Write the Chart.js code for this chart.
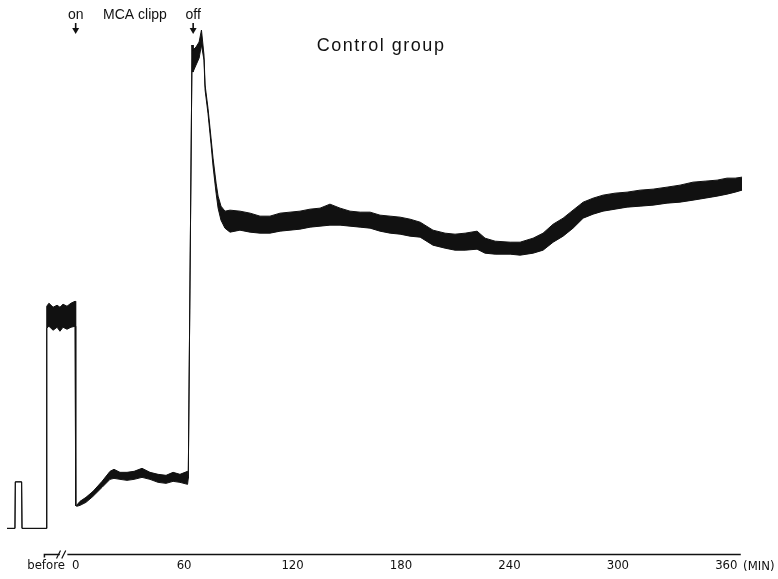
<!DOCTYPE html>
<html>
<head>
<meta charset="utf-8">
<title>Control group</title>
<script src="https://cdn.jsdelivr.net/npm/chart.js@4"></script>
<style>
    body { margin: 0; background: #fff; }
    #wrap { width: 778px; height: 579px; }
</style>
</head>
<body>
<div id="wrap"><canvas id="trace-chart" width="778" height="579"></canvas></div>
<script>
var minutes = [-38.0, -33.6, -33.4, -29.9, -29.7, -16.3, -16.0, -14.8, -12.5, -10.3, -8.7, -7.0, -4.8, -2.6, -0.3,
    0.0, 0.5, 2.4, 5.7, 9.6, 14.6, 19.0, 21.2, 24.5, 28.4, 32.3, 36.7, 41.1, 45.6, 50.0, 53.9, 57.7, 61.9,
    62.3, 64.4, 64.9, 66.6, 68.3, 69.6, 71.0, 71.6, 73.2, 74.9, 76.0, 77.7, 78.8, 80.4, 82.6,
    85.4, 90.9, 96.5, 102.0, 107.5, 113.1, 118.6, 124.1, 129.7, 135.2, 140.7, 146.3, 151.8, 157.4, 162.9,
    168.4, 174.0, 179.5, 185.0, 190.6, 197.7, 204.4, 209.9, 215.5, 222.1, 226.5, 232.1, 240.4, 245.9,
    253.1, 258.6, 264.2, 269.7, 275.2, 280.8, 286.3, 291.8, 298.5, 305.1, 312.3, 319.5, 327.2, 334.4,
    341.6, 348.3, 354.9, 360.4, 364.9, 368.7];
var upper = [5.2, 5.2, 14.5, 14.5, 5.2, 5.2, 49.6, 50.2, 49.4, 49.8, 49.4, 50.0, 49.6, 50.2, 50.6,
    9.8, 9.8, 10.6, 11.4, 12.6, 14.6, 16.6, 17.0, 16.4, 16.4, 16.6, 17.2, 16.4, 16.0, 15.8, 16.4, 16.0, 16.6,
    15.2, 101.8, 100.8, 101.4, 102.4, 104.8, 99.8, 93.8, 89.2, 83.2, 79.2, 74.2, 71.6, 69.6, 68.6,
    68.8, 68.6, 68.2, 67.6, 67.6, 68.2, 68.4, 68.6, 69.0, 69.2, 70.0, 69.2, 68.6, 68.4, 68.4,
    67.8, 67.6, 67.4, 67.0, 66.4, 64.8, 64.2, 64.0, 64.2, 64.6, 63.2, 62.6, 62.4, 62.4,
    63.2, 64.2, 66.0, 67.2, 68.8, 70.4, 71.2, 71.8, 72.2, 72.4, 72.8, 73.0, 73.4, 73.8,
    74.4, 74.6, 74.8, 75.2, 75.2, 75.4];
var lower = [5.2, 5.2, 14.5, 14.5, 5.2, 5.2, 45.2, 45.6, 44.8, 45.4, 44.6, 45.4, 45.0, 45.4, 45.6,
    9.8, 9.6, 9.8, 10.4, 11.6, 13.4, 15.0, 15.2, 15.0, 14.8, 15.0, 15.4, 15.0, 14.4, 14.2, 14.6, 14.4, 14.0,
    15.2, 101.8, 96.4, 97.8, 99.2, 101.8, 98.8, 92.8, 88.2, 82.0, 77.6, 72.2, 69.2, 66.8, 65.2,
    64.4, 64.8, 64.4, 64.2, 64.2, 64.6, 64.8, 65.0, 65.4, 65.6, 65.8, 65.8, 65.6, 65.4, 65.2,
    64.6, 64.2, 64.0, 63.6, 63.4, 61.8, 61.2, 60.8, 60.8, 61.0, 60.2, 60.0, 60.0, 59.8,
    60.2, 60.8, 62.4, 63.6, 65.2, 67.2, 68.0, 68.6, 69.0, 69.4, 69.6, 69.8, 70.2, 70.4,
    70.8, 71.2, 71.6, 72.0, 72.4, 72.8];

var tickValues = [-16.4, 0, 60, 120, 180, 240, 300, 360];
var tickLabels = ['before', '0', '60', '120', '180', '240', '300', '360'];
var notes = [
    {text: 'on', at: 0, arrow: true},
    {text: 'MCA clipp', at: 32.8, arrow: false},
    {text: 'off', at: 65, arrow: true}
];
var title = 'Control group';
var unitLabel = '(MIN)';

function toPoints(ys) {
    var pts = [];
    for (var i = 0; i < minutes.length; i++) {
        pts.push({x: minutes[i], y: ys[i]});
    }
    return pts;
}

// axis line with the "//" break, annotations and title
var decor = {
    id: 'decor',
    afterDraw: function(chart) {
        var ctx = chart.ctx;
        var xs = chart.scales.x;
        var ys = chart.scales.y;
        var b = chart.chartArea.bottom;
        ctx.save();
        ctx.strokeStyle = '#111';
        ctx.fillStyle = '#111';
        ctx.lineWidth = 1.5;
        ctx.beginPath();
        ctx.moveTo(xs.getPixelForValue(-17.3), b + 3);
        ctx.lineTo(xs.getPixelForValue(-17.3), b);
        ctx.lineTo(xs.getPixelForValue(-8.8), b);
        ctx.moveTo(xs.getPixelForValue(-4.6), b);
        ctx.lineTo(xs.getPixelForValue(368), b);
        ctx.stroke();
        ctx.lineWidth = 1.2;
        ctx.beginPath();
        var k1 = xs.getPixelForValue(-9.5), k2 = xs.getPixelForValue(-6.6);
        ctx.moveTo(k1 - 2, b + 4); ctx.lineTo(k1 + 2, b - 4);
        ctx.moveTo(k2 - 2, b + 4); ctx.lineTo(k2 + 2, b - 4);
        ctx.stroke();

        ctx.font = '13px "Liberation Sans Narrow", "DejaVu Sans Condensed", "Liberation Sans", sans-serif';
        ctx.textAlign = 'left';
        ctx.textBaseline = 'middle';
        ctx.fillText(unitLabel, xs.getPixelForValue(369.3), b + 12);

        ctx.font = '14px "Liberation Sans", Arial, sans-serif';
        ctx.textAlign = 'center';
        notes.forEach(function(n) {
            var px = xs.getPixelForValue(n.at);
            ctx.fillText(n.text, px, 15);
            if (n.arrow) {
                ctx.lineWidth = 1.6;
                ctx.beginPath();
                ctx.moveTo(px, 23);
                ctx.lineTo(px, 30);
                ctx.stroke();
                ctx.beginPath();
                ctx.moveTo(px - 3.5, 28);
                ctx.lineTo(px + 3.5, 28);
                ctx.lineTo(px, 34);
                ctx.closePath();
                ctx.fill();
            }
        });

        ctx.font = '18px "Liberation Sans", Arial, sans-serif';
        ctx.letterSpacing = '1.5px';
        ctx.fillText(title, xs.getPixelForValue(169), ys.getPixelForValue(101.6));
        ctx.restore();
    }
};

var ctx = document.getElementById('trace-chart').getContext('2d');
var traceChart = new Chart(ctx, {
    type: 'line',
    data: {
        datasets: [
            {
                label: 'upper',
                data: toPoints(upper),
                borderColor: '#111',
                backgroundColor: '#111',
                borderWidth: 1,
                pointRadius: 0,
                tension: 0,
                fill: '+1'
            },
            {
                label: 'lower',
                data: toPoints(lower),
                borderColor: '#111',
                backgroundColor: '#111',
                borderWidth: 1,
                pointRadius: 0,
                tension: 0,
                fill: false
            }
        ]
    },
    options: {
        responsive: false,
        animation: false,
        layout: {padding: {left: 7, right: 30, top: 4, bottom: 3}},
        plugins: {
            legend: {display: false},
            tooltip: {enabled: false}
        },
        scales: {
            x: {
                type: 'linear',
                min: -38,
                max: 372,
                grid: {display: false, drawTicks: false},
                border: {display: false},
                afterBuildTicks: function(scale) {
                    scale.ticks = tickValues.map(function(v) { return {value: v}; });
                },
                ticks: {
                    padding: 3,
                    autoSkip: false,
                    maxRotation: 0,
                    color: '#111',
                    font: {family: '"Liberation Sans Narrow", "DejaVu Sans Condensed", "Liberation Sans", sans-serif', size: 13},
                    callback: function(value, index) { return tickLabels[index]; }
                }
            },
            y: {
                display: false,
                min: 0,
                max: 110
            }
        }
    },
    plugins: [decor]
});
</script>
</body>
</html>
